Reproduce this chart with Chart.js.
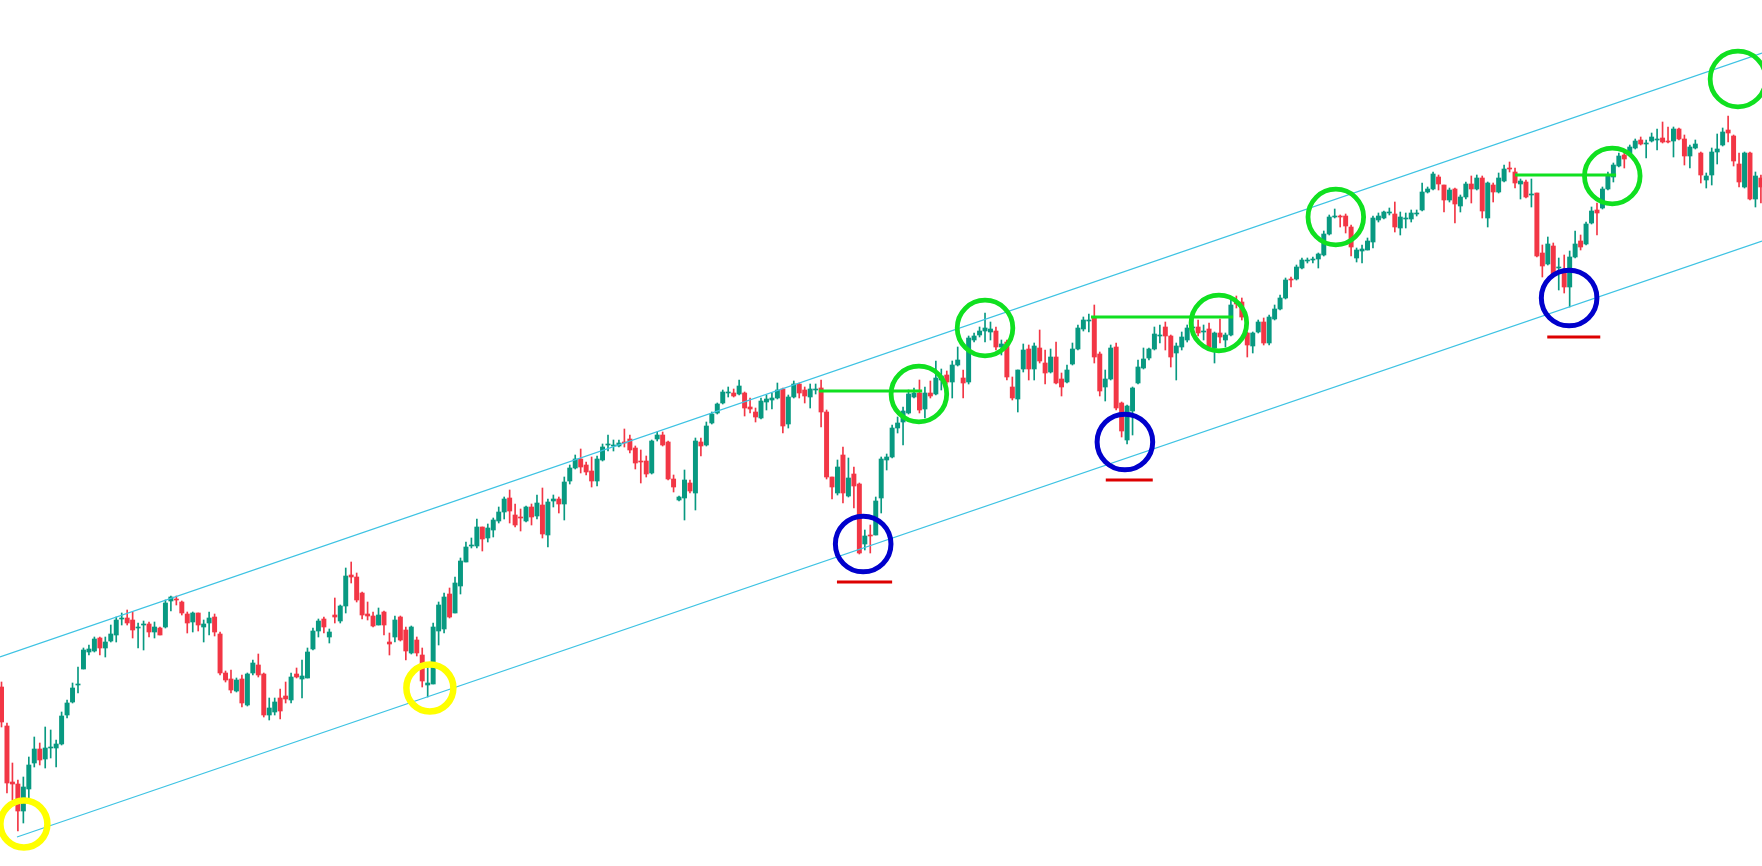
<!DOCTYPE html>
<html><head><meta charset="utf-8">
<script src="https://cdn.jsdelivr.net/npm/chart.js@4.4.1/dist/chart.umd.min.js"></script>
<style>html,body{margin:0;padding:0;background:#fff;overflow:hidden}</style>
</head><body>
<canvas id="c" width="1762" height="866"></canvas>
<script>
// ---- candle data (one entry per session, index = session number) ----
const opens = [
179,140,84,82,55,77,103,117,107,118, 118,122,151,164,181,197,214,215,228,218,
225,231,247,248,246,238,241,242,234,238, 239,265,267,264,252,244,253,239,243,249,
232,193,187,175,187,161,193,201,192,151, 154,168,170,166,192,187,188,217,235,247,
229,251,245,260,291,289,273,252,250,241, 254,224,229,249,236,213,226,211,181,182,
235,237,272,253,280,304,320,320,339,328, 336,345,354,368,351,349,345,359,350,361,
331,365,367,362,385,398,407,401,395,385, 406,421,420,420,424,427,418,405,405,393,
427,431,424,387,366,368,383,373,424,421, 443,453,463,473,473,472,473,459,454,448,
464,466,468,477,442,469,482,476,469,476, 478,454,389,373,411,370,392,382,322,331,
331,368,406,409,438,444,453,469,473,457, 473,472,486,491,484,501,488,484,526,531,
535,534,535,519,524,479,467,497,517,497, 518,503,494,509,487,484,502,517,537,545,
548,512,479,487,519,463,426,455,483,498, 508,517,530,539,530,513,519,526,538,539,
534,537,518,533,526,531,564,564,533,520, 534,544,523,547,557,568,587,587,598,605,
606,607,611,632,649,650,650,639,608,615, 616,624,646,648,653,652,638,647,647,652,
656,674,677,689,681,666,677,660,669,682, 677,688,648,681,674,685,698,694,682,684,
671,673,613,602,620,598,593,579,609,625, 622,643,656,658,677,689,700,711,711,718,
726,722,725,726,728,725,725,737,727,710, 718,713,686,691,714,721,736,730,702,679,
713,667,688];
const highs = [
184,143,103,86,89,109,129,123,139,136, 126,154,166,183,199,218,221,229,229,229,
241,249,253,256,254,243,245,244,244,239, 266,270,270,265,254,254,253,246,254,252,
234,195,196,188,191,193,206,212,193,168, 168,177,184,193,198,206,218,238,247,249,
237,268,261,298,304,293,274,264,254,258, 255,233,250,250,239,240,229,218,199,243,
264,273,278,289,308,324,328,347,339,342, 348,359,369,376,362,357,360,362,371,378,
367,371,369,389,401,411,417,404,409,410, 422,431,426,426,437,431,420,416,410,426,
434,434,425,391,370,396,386,428,428,444, 454,463,476,479,477,486,474,468,458,468,
471,473,483,478,471,485,483,479,482,482, 486,456,389,406,419,408,399,383,336,341,
369,409,412,441,449,459,476,478,486,479, 485,505,497,495,505,519,496,530,533,539,
553,544,539,526,526,489,496,522,521,523, 536,516,517,524,493,501,523,541,549,552,
561,514,496,521,523,464,461,479,506,518, 518,539,541,544,531,523,534,541,548,546,
541,543,534,547,533,569,570,568,534,534, 546,548,551,561,571,588,589,601,608,608,
609,613,635,651,657,651,652,641,618,621, 628,650,653,655,658,664,654,653,656,656,
683,679,694,691,681,678,678,671,684,690, 691,690,684,683,693,701,704,698,687,686,
687,673,621,629,623,608,611,615,635,631, 644,659,663,679,694,703,713,713,721,727,
729,726,733,737,744,739,739,738,731,721, 726,714,693,718,732,738,750,731,713,714,
714,694,691];
const lows = [
139,73,66,35,43,66,99,101,98,108, 99,121,148,163,173,197,211,214,211,209,
224,224,241,241,228,218,216,229,228,231, 238,255,261,251,233,234,235,224,231,230,
191,184,173,174,159,160,191,189,149,146, 151,147,163,163,188,168,188,216,229,233,
223,243,243,253,283,264,247,246,239,241, 231,211,224,225,206,212,210,179,169,182,
221,233,248,253,272,304,318,318,315,324, 329,343,347,343,339,335,344,341,347,328,
319,359,353,346,382,397,393,391,379,380, 405,415,415,419,419,413,397,383,389,392,
425,420,386,374,365,346,373,356,410,420, 442,452,462,469,469,471,450,453,444,447,
456,457,467,433,438,468,468,463,458,472, 439,387,367,371,363,369,358,312,316,313,
331,353,396,408,433,421,452,468,453,448, 468,471,476,482,468,500,468,482,524,529,
524,526,516,511,486,466,454,494,486,486, 503,482,493,482,470,483,501,516,535,534,
503,470,465,486,456,429,422,431,482,497, 506,516,523,516,499,486,516,524,533,530,
526,518,503,523,519,530,558,546,509,513, 533,521,521,546,556,567,579,586,597,603,
603,598,610,631,648,639,633,610,604,603, 616,618,644,647,651,634,631,638,644,650,
655,673,676,676,654,664,643,654,667,663, 676,648,639,664,673,684,694,678,667,668,
659,609,589,601,589,576,573,559,608,616, 621,642,631,657,676,684,699,698,710,717,
721,708,724,716,723,723,709,726,701,698, 717,683,678,681,702,720,724,700,679,678,
666,659,663];
const closes = [
144,83,82,55,79,101,117,106,118,119, 122,150,163,178,182,216,217,227,218,224,
232,246,248,243,236,239,242,234,239,231, 263,269,266,253,243,253,241,242,248,234,
193,186,176,186,163,192,203,191,151,158, 164,155,167,189,189,190,214,235,245,239,
234,249,260,290,289,266,251,250,240,251, 241,222,246,226,215,239,213,185,183,239,
261,269,249,283,305,319,321,339,327,338, 346,354,367,355,341,348,359,349,363,332,
364,367,362,384,398,407,399,394,385,407, 419,422,421,423,423,416,403,404,392,425,
431,421,387,379,369,386,375,425,420,440, 452,462,474,474,470,480,458,457,449,465,
467,468,476,440,469,482,473,470,477,477, 454,389,379,399,373,388,380,313,330,330,
365,407,409,438,443,455,472,473,456,473, 470,488,490,484,501,506,483,528,530,535,
538,537,519,522,489,468,496,516,497,520, 505,493,509,483,479,496,517,538,546,546,
509,475,487,518,458,435,460,478,499,507, 517,532,531,530,509,520,529,538,539,533,
535,519,533,529,531,561,562,549,521,533, 544,523,549,557,568,586,586,599,606,606,
607,612,632,649,650,649,640,619,616,617, 625,648,650,654,654,639,649,648,653,653,
674,677,692,682,666,676,662,669,682,677, 688,655,683,674,688,697,697,683,685,669,
672,610,600,622,591,599,579,609,622,619, 642,655,653,677,690,701,710,707,719,725,
722,723,729,727,724,724,737,727,710,719, 722,691,690,714,717,734,733,705,684,713,
667,690,679];

// ---- drawn annotations: [session, price] and [fromSession, toSession, price] ----
const channelUpper = [[-0.27, 209], [322.2, 813]];
const channelLower = [[2.84, 29], [322.2, 625]];
const yellowMarks = [[4.1, 42], [78.4, 178]];
const blueMarks = [[157.7, 322], [205.6, 424], [286.9, 568]];
const greenMarks = [[167.9, 472], [180.0, 538], [222.8, 543], [244.2, 649], [294.8, 690], [317.8, 787]];
const resistanceLevels = [[149.6, 168.5, 475], [199.4, 225.4, 549], [277.0, 295.5, 691]];
const supportMarks = [[152.9, 163.0, 284], [202.1, 210.7, 386], [282.9, 292.6, 529]];

const UP = '#089981', DOWN = '#f23645';
const candleColors = opens.map((o, i) => closes[i] >= o ? UP : DOWN);

const datasets = [];
datasets.push({
  type: 'bar', label: 'body',
  data: opens.map((o, i) => ({x: i, y: [o, closes[i]]})),
  backgroundColor: candleColors, borderWidth: 0,
  barThickness: 4.3, grouped: false, minBarLength: 1, order: 5
});
datasets.push({
  type: 'bar', label: 'wick',
  data: lows.map((l, i) => ({x: i, y: [l, highs[i]]})),
  backgroundColor: candleColors, borderWidth: 0,
  barThickness: 1, grouped: false, order: 6
});
function seg(points, color, width, order) {
  return {type: 'line', data: points.map(p => ({x: p[0], y: p[1]})),
    borderColor: color, borderWidth: width, pointRadius: 0, fill: false,
    tension: 0, order: order};
}
datasets.push(seg(channelUpper, '#3ec3e3', 1.3, 3));
datasets.push(seg(channelLower, '#3ec3e3', 1.3, 3));
resistanceLevels.forEach(r => datasets.push(seg([[r[0], r[2]], [r[1], r[2]]], '#10e020', 3, 2)));
supportMarks.forEach(r => datasets.push(seg([[r[0], r[2]], [r[1], r[2]]], '#dd0000', 3, 2)));
function rings(points, color, radius, width) {
  return {type: 'line', showLine: false,
    data: points.map(p => ({x: p[0], y: p[1]})),
    pointStyle: 'circle', pointRadius: radius, pointBorderWidth: width,
    pointBorderColor: color, pointBackgroundColor: 'rgba(0,0,0,0)',
    borderColor: color, backgroundColor: 'rgba(0,0,0,0)', order: 1, clip: false};
}
datasets.push(rings(yellowMarks, '#ffff00', 23.5, 6.5));
datasets.push(rings(blueMarks, '#0000cc', 27.8, 5));
datasets.push(rings(greenMarks, '#10e020', 27.8, 4.8));

new Chart(document.getElementById('c'), {
  type: 'bar',
  data: {datasets},
  options: {
    responsive: false, animation: false, events: [],
    layout: {padding: 0, autoPadding: false},
    plugins: {legend: {display: false}, tooltip: {enabled: false}},
    scales: {
      x: {type: 'linear', display: false, offset: false, min: -0.2745, max: 322.2},
      y: {type: 'linear', display: false, min: 0, max: 866, beginAtZero: true}
    }
  }
});
</script>
</body></html>
